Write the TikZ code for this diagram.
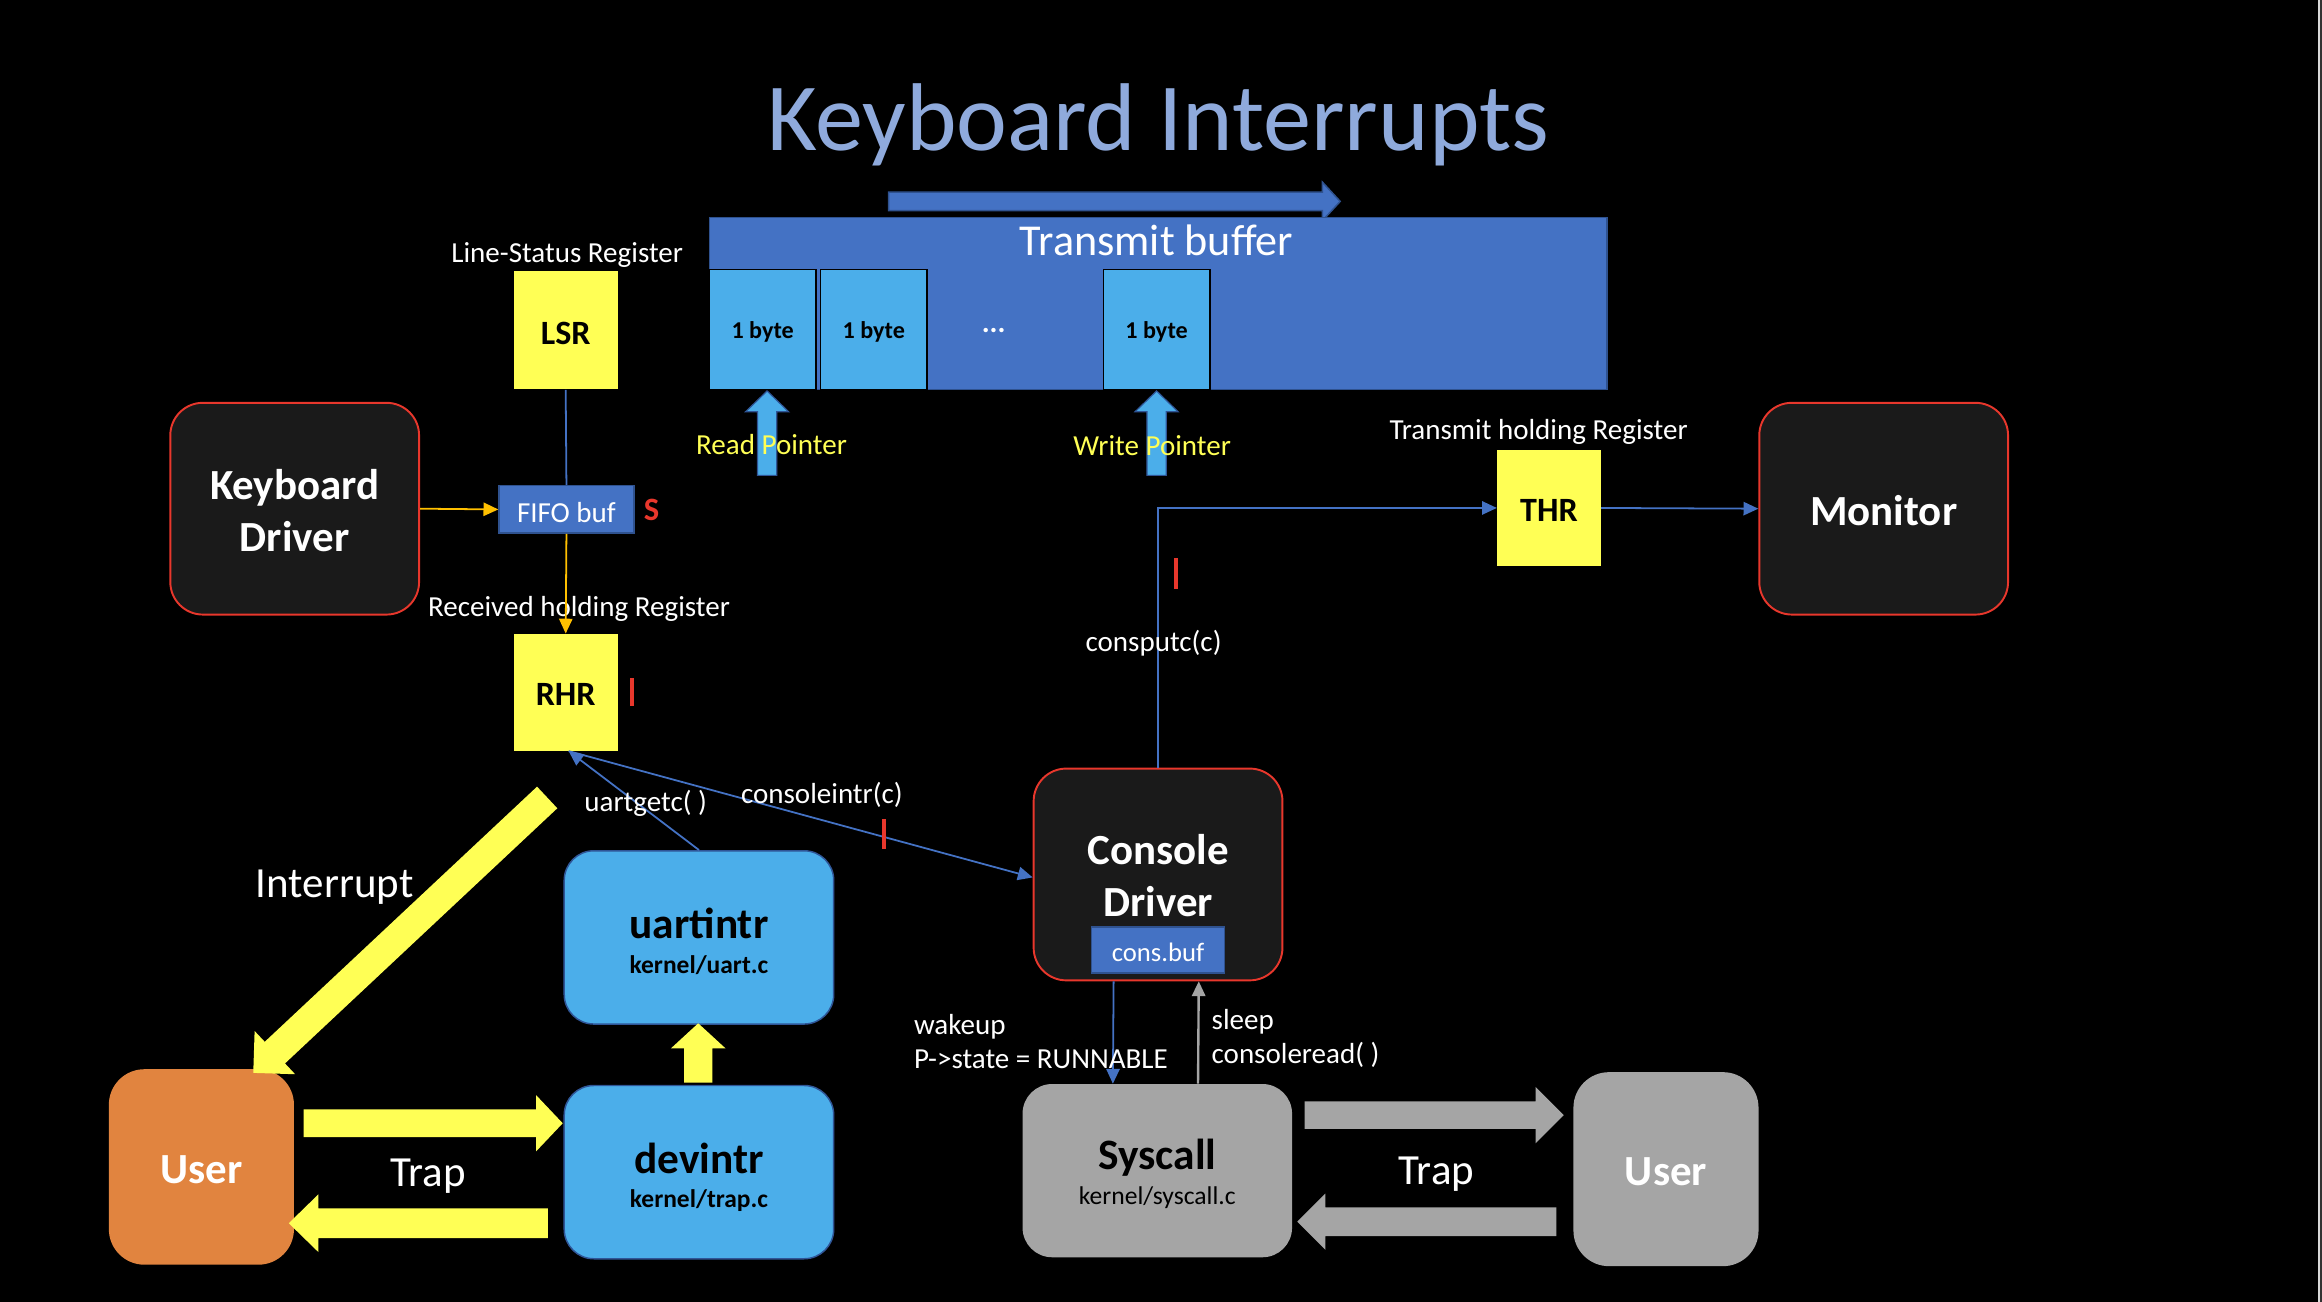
\documentclass[tikz,border=0pt]{standalone}
\usepackage{fontspec}
\setmainfont{Carlito}
\usetikzlibrary{arrows.meta}
\definecolor{oblue}{HTML}{4472C4}
\definecolor{oblueb}{HTML}{2F528F}
\definecolor{lblue}{HTML}{4BAEEA}
\definecolor{lblueb}{HTML}{2F5597}
\definecolor{yel}{HTML}{FFFF55}
\definecolor{orng}{HTML}{E1843F}
\definecolor{gry}{HTML}{A5A5A5}
\definecolor{dk}{HTML}{1A1A1A}
\definecolor{redc}{HTML}{E8372C}
\definecolor{titlec}{HTML}{8FAADC}
\definecolor{amber}{HTML}{FFC000}
\newcommand\fsz[2]{\fontsize{#1}{#2}\selectfont}
% block arrow: style, x1, y1, x2, y2, shaft width, head width, head length
\newcommand\barrow[8]{%
  \pgfmathsetmacro\baang{atan2(-(#5-#3),#4-#2)}%
  \pgfmathsetmacro\balen{veclen(#4-#2,#5-#3)}%
  \pgfmathsetmacro\bab{\balen-#8}%
  \pgfmathsetmacro\baw{#6/2}%
  \pgfmathsetmacro\baW{#7/2}%
  \path[#1,shift={(#2,#3)},rotate=\baang] (0pt,\baw pt) -- (\bab pt,\baw pt) -- (\bab pt,\baW pt) -- (\balen pt,0pt) -- (\bab pt,-\baW pt) -- (\bab pt,-\baw pt) -- (0pt,-\baw pt) -- cycle;}
\begin{document}
\begin{tikzpicture}[x=1pt,y=-1pt,
  txt/.style={inner sep=0pt, text=white, font=\fsz{19.6}{23}},
  darkbox/.style={rectangle, rounded corners=22pt, fill=dk, draw=redc, line width=1.3pt, text=white, align=center, inner sep=0pt, font=\bfseries\fsz{29}{35}, minimum width=168pt, minimum height=143pt},
  reg/.style={rectangle, fill=yel, inner sep=0pt, text=black, font=\bfseries\fsz{23}{27}, minimum width=70pt, minimum height=79pt},
  bufbox/.style={rectangle, fill=oblue, draw=oblueb, line width=1pt, inner sep=0pt, text=white, font=\fsz{19.6}{23}},
  cell/.style={rectangle, fill=lblue, draw=black, line width=1pt, inner sep=0pt, minimum width=72pt, minimum height=81pt, font=\bfseries\fsz{16.3}{19}},
  lbox/.style={rectangle, rounded corners=20pt, fill=lblue, draw=lblueb, line width=1pt, inner sep=0pt, minimum width=182pt, minimum height=117pt},
  gbox/.style={rectangle, rounded corners=20pt, fill=gry, inner sep=0pt, minimum width=182pt, minimum height=117pt},
  ubox/.style={rectangle, rounded corners=24pt, inner sep=0pt, minimum width=125pt, minimum height=132pt, fill=none},
  big/.style={inner sep=0pt, font=\bfseries\fsz{29.3}{34}},
  sub/.style={inner sep=0pt, font=\bfseries\fsz{17.2}{20}},
  bline/.style={draw=oblue, line width=1.2pt},
  barr/.style={bline, -{Triangle[length=10pt,width=9pt]}},
  oarr/.style={draw=amber, line width=1.2pt, -{Triangle[length=10pt,width=9pt]}},
  garr/.style={draw=gry, line width=1.6pt, -{Triangle[length=10pt,width=9pt]}},
  tick/.style={draw=redc, line width=2.6pt},
  yarrow/.style={fill=yel},
  grarrow/.style={fill=gry},
  ptrarrow/.style={fill=lblue, draw=lblueb, line width=0.8pt},
  toparrow/.style={fill=oblue, draw=oblueb, line width=1pt}
]
\fill[black] (0,0) rectangle (1568,879);
\useasboundingbox (0,0) rectangle (1568,879);
\fill[white!85!black] (1565,0) rectangle (1566.5,879);
\fill[white!20!black] (1566.5,0) rectangle (1568,879);

% title
\node[inner sep=0pt, text=titlec, font=\fsz{65}{70}] (title) at (782,84) {Keyboard Interrupts};

% transmit buffer
\barrow{toparrow}{600}{136}{905}{136}{12.5}{26}{12}
\node[rectangle, fill=oblue, draw=oblueb, line width=1pt, inner sep=0pt, minimum width=606pt, minimum height=116pt] (tb) at (782,205) {};
\node[txt, font=\fsz{29.8}{34}] (tbt) at (781,162) {Transmit buffer};
\node[cell] (c1) at (515,222.5) {};
\node[cell] (c2) at (590,222.5) {};
\node[cell] (c3) at (781,222.5) {};
\node[inner sep=0pt, font=\bfseries\fsz{16.3}{19}] (c1t) at (515,224) {1 byte};
\node[inner sep=0pt, font=\bfseries\fsz{16.3}{19}] (c2t) at (590,224) {1 byte};
\node[inner sep=0pt, font=\bfseries\fsz{16.3}{19}] (c3t) at (781,224) {1 byte};
\node[txt, font=\bfseries\fsz{20}{24}] (dots) at (671,223) {...};
\barrow{ptrarrow}{518}{321}{518}{264}{13}{29}{14}
\barrow{ptrarrow}{781}{321}{781}{264}{13}{29}{14}
\node[txt, text=yel] (rp) at (521,300) {Read Pointer};
\node[txt, text=yel] (wp) at (778,301) {Write Pointer};

% registers
\node[reg, minimum height=80pt] (lsr) at (382,223) {};
\node[inner sep=0pt, font=\bfseries\fsz{23}{27}] (lsrl) at (382,225) {LSR};
\node[txt] (lsrt) at (383,172) {Line-Status Register};
\node[bufbox, minimum width=91pt, minimum height=32pt] (fifo) at (382.5,344) {};
\node[inner sep=0pt, text=white, font=\fsz{19.6}{23}] (fifol) at (382.5,346) {FIFO buf};
\node[inner sep=0pt, text=redc, font=\bfseries\fsz{22}{26}] (s) at (440,344) {S};
\node[reg] (rhr) at (382,467.5) {};
\node[inner sep=0pt, font=\bfseries\fsz{23}{27}] (rhrl) at (382,469) {RHR};
\node[txt] (rhrt) at (391,411.5) {Received holding Register};
\node[reg, minimum height=78pt] (thr) at (1046,343) {};
\node[inner sep=0pt, font=\bfseries\fsz{23}{27}] (thrl) at (1046,345) {THR};
\node[txt] (thrt) at (1039,291.5) {Transmit holding Register};

% drivers
\node[darkbox] (kd) at (199,343.5) {};
\node[inner sep=0pt, text=white, align=center, font=\bfseries\fsz{29}{35}] (kdt) at (199,345) {Keyboard\\Driver};
\node[darkbox] (mon) at (1272,343.5) {};
\node[inner sep=0pt, text=white, font=\bfseries\fsz{29}{35}] (mont) at (1272,345) {Monitor};
\node[darkbox] (cd) at (782,590.5) {};
\node[inner sep=0pt, text=white, align=center, font=\bfseries\fsz{29}{35}] (cdt) at (782,591.5) {Console\\Driver};
\node[bufbox, minimum width=90pt, minimum height=31pt] (cbuf) at (782,641.5) {};
\node[inner sep=0pt, text=white, font=\fsz{18}{22}] (cbuft) at (782,643) {cons.buf};

% kernel boxes
\node[lbox] (ui) at (472,633) {};
\node[big] (uit) at (472,623.5) {uartintr};
\node[sub] (uis) at (472,652) {kernel/uart.c};
\node[lbox] (di) at (472,791.5) {};
\node[big] (dit) at (472,782.5) {devintr};
\node[sub] (dis) at (472,811) {kernel/trap.c};
\node[gbox] (sc) at (781.5,790.5) {};
\node[big] (sct) at (781.5,781.5) {Syscall};
\node[inner sep=0pt, font=\fsz{17.3}{20}] (scs) at (781.5,809) {kernel/syscall.c};
\node[ubox, fill=orng] (ul) at (136,788) {};
\node[inner sep=0pt, text=white, font=\bfseries\fsz{29}{34}] (ult) at (136,790) {User};
\node[ubox, fill=gry, minimum height=131pt] (ur) at (1125,789.5) {};
\node[inner sep=0pt, text=white, font=\bfseries\fsz{29}{34}] (urt) at (1125,791) {User};

% connectors
\draw[bline] (lsr.south) -- (fifo.north);
\draw[oarr] (kd.east) -- (fifo.west);
\draw[oarr] (fifo.south) -- (rhr.north);
\draw[barr] (ui.north) -- ([xshift=2pt]rhr.south);
\draw[barr] ([xshift=2pt]rhr.south) -- ([yshift=-2pt]cd.west);
\draw[barr] (cd.north) |- (thr.west);
\draw[barr] (thr.east) -- (mon.west);
\draw[barr] ([xshift=-30pt]cd.south) -- ([xshift=-30pt]sc.north);
\draw[garr] ([xshift=27.5pt]sc.north) -- ([xshift=27.5pt]cd.south);

% red ticks
\draw[tick] (427,458) -- (427,477);
\draw[tick] (794,377) -- (794,398);
\draw[tick] (597,553) -- (597,573);

% labels
\node[txt] (l1) at (779,434.5) {consputc(c)};
\node[txt] (l2) at (436,542.5) {uartgetc( )};
\node[txt] (l3) at (555,536.5) {consoleintr(c)};
\node[txt, anchor=west, align=left, font=\fsz{19.6}{23}] (l4) at (617,703) {wakeup\\P->state = RUNNABLE};
\node[txt, anchor=west, align=left, font=\fsz{19.6}{23}] (l5) at (818,701) {sleep\\consoleread( )};
\node[txt, font=\fsz{29}{34}] (intr) at (226,599) {Interrupt};
\node[txt, font=\fsz{29}{34}] (trap1) at (289,794) {Trap};
\node[txt, font=\fsz{29}{34}] (trap2) at (970,793) {Trap};

% big arrows
\barrow{yarrow}{369.5}{538.5}{171}{724.5}{20}{40}{20}
\barrow{yarrow}{471.5}{731}{471.5}{691}{19}{37}{17}
\barrow{yarrow}{205}{758.5}{380}{758.5}{18.6}{38}{18}
\barrow{yarrow}{370}{826}{195}{826}{20}{39}{20}
\barrow{grarrow}{881}{753}{1056}{753}{18.5}{38}{19}
\barrow{grarrow}{1051}{825}{876}{825}{19.5}{38}{19}
\end{tikzpicture}
\end{document}
